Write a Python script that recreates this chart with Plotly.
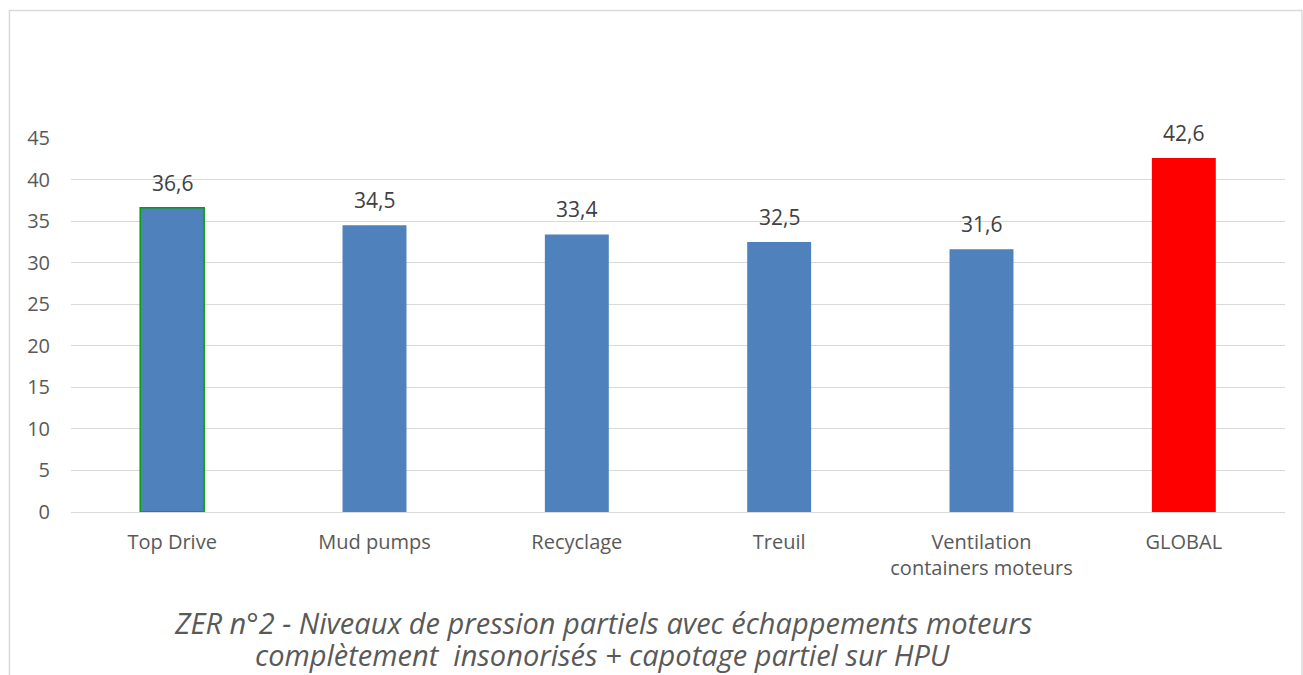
import plotly.graph_objects as go

categories = ["Top Drive", "Mud pumps", "Recyclage", "Treuil",
              "Ventilation<br>containers moteurs", "GLOBAL"]
values = [36.6, 34.5, 33.4, 32.5, 31.6, 42.6]
labels = ["36,6", "34,5", "33,4", "32,5", "31,6", "42,6"]
bar_colors = ["#4f81bd", "#4f81bd", "#4f81bd", "#4f81bd", "#4f81bd", "#ff0000"]
edge_colors = ["#00a000", "#4f81bd", "#4f81bd", "#4f81bd", "#4f81bd", "#ff0000"]
edge_widths = [1.5, 0, 0, 0, 0, 0]
y_ticks = [0, 5, 10, 15, 20, 25, 30, 35, 40, 45]

caption_lines = ["ZER n°2 - Niveaux de pression partiels avec échappements moteurs",
                 "complètement  insonorisés + capotage partiel sur HPU"]

FONT = "Open Sans"
GREY = "#595959"

fig = go.Figure(go.Bar(
    x=categories,
    y=values,
    cliponaxis=False,
    marker=dict(color=bar_colors,
                line=dict(color=edge_colors, width=edge_widths)),
))

# value labels placed just above each bar
annotations = [
    dict(x=c, y=v, text=t, xref="x", yref="y", showarrow=False,
         xanchor="center", yanchor="bottom", yshift=9,
         font=dict(family=FONT, size=21, color="#404040"))
    for c, v, t in zip(categories, values, labels)
]

# two-line caption under the plot
for line, ypos in zip(caption_lines, [-0.238, -0.3235]):
    annotations.append(dict(
        text=line, xref="paper", yref="paper",
        x=0.438, y=ypos, xanchor="center", yanchor="top",
        showarrow=False, align="center",
        font=dict(family=FONT, size=29, color=GREY, style="italic")))

fig.update_layout(
    width=1303, height=675,
    margin=dict(l=71, r=18, t=138, b=163),
    paper_bgcolor="white", plot_bgcolor="white",
    bargap=0.684,
    showlegend=False,
    font=dict(family=FONT, color=GREY, size=19),
    xaxis=dict(showgrid=False, showline=False, ticks="",
               ticklabelstandoff=16,
               tickfont=dict(family=FONT, size=20, color=GREY)),
    yaxis=dict(range=[0, 45], tickvals=y_ticks, showgrid=True,
               gridcolor="#d9d9d9", gridwidth=1, zeroline=True,
               zerolinecolor="#d9d9d9", zerolinewidth=1,
               ticks="", ticklabelstandoff=20,
               tickfont=dict(family=FONT, size=20, color=GREY)),
    shapes=[dict(type="rect", xref="paper", yref="paper",
                 x0=-0.0507, x1=1.014, y0=-0.7, y1=1.341,
                 line=dict(color="#d9d9d9", width=1.5),
                 fillcolor="rgba(0,0,0,0)", layer="below")],
    annotations=annotations,
)

fig.write_html("out.html")
